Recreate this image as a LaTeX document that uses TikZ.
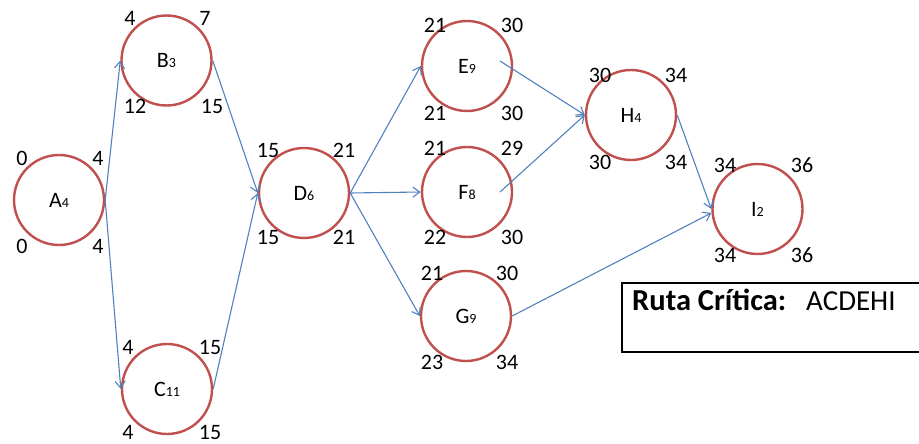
\documentclass[tikz,border=0pt]{standalone}
\usepackage{fontspec}
\setmainfont{Carlito}
\usetikzlibrary{arrows.meta}
\definecolor{nodered}{HTML}{C0504D}
\definecolor{edgeblue}{HTML}{4F81BD}
% activity name with its duration as a small index
\newcommand\actlabel[2]{#1{\fontsize{14}{14}\selectfont #2}}
\begin{document}
\begin{tikzpicture}[x=1pt,y=-1pt,
  act/.style={circle, draw=nodered, line width=2.4pt, minimum size=90pt,
              inner sep=0pt, font=\fontsize{22}{22}\selectfont},
  tval/.style={font=\fontsize{22}{22}\selectfont, inner sep=0pt, anchor=center},
  link/.style={draw=edgeblue, line width=1.1pt,
               -{Straight Barb[length=7pt,width=10pt]}},
  note/.style={anchor=base west, inner sep=0pt, font=\fontsize{29}{29}\selectfont}]
\useasboundingbox (0,0) rectangle (919,444);

% activities
\node[act] (A) at (59,200)    {\actlabel{A}{4}};
\node[act] (B) at (166.5,60.5) {\actlabel{B}{3}};
\node[act] (C) at (167,389)   {\actlabel{C}{11}};
\node[act] (D) at (304,193)   {\actlabel{D}{6}};
\node[act] (E) at (467,66)    {\actlabel{E}{9}};
\node[act] (F) at (467,192)   {\actlabel{F}{8}};
\node[act] (G) at (466,316)   {\actlabel{G}{9}};
\node[act] (H) at (631,115)   {\actlabel{H}{4}};
\node[act] (I) at (757.5,209) {\actlabel{I}{2}};

% times: early start / early finish (top), late start / late finish (bottom)
\node[tval] (A-es) at (22,158)  {0};  \node[tval] (A-ef) at (98,158)  {4};
\node[tval] (A-ls) at (22,246)  {0};  \node[tval] (A-lf) at (98,246)  {4};
\node[tval] (B-es) at (130,18)  {4};  \node[tval] (B-ef) at (205,18)  {7};
\node[tval] (B-ls) at (135,106) {12}; \node[tval] (B-lf) at (212,106) {15};
\node[tval] (C-es) at (128,347) {4};  \node[tval] (C-ef) at (210,347) {15};
\node[tval] (C-ls) at (128,432) {4};  \node[tval] (C-lf) at (210,432) {15};
\node[tval] (D-es) at (268,150) {15}; \node[tval] (D-ef) at (344,150) {21};
\node[tval] (D-ls) at (268,237) {15}; \node[tval] (D-lf) at (344,237) {21};
\node[tval] (E-es) at (435,25)  {21}; \node[tval] (E-ef) at (512,25)  {30};
\node[tval] (E-ls) at (435,113) {21}; \node[tval] (E-lf) at (512,113) {30};
\node[tval] (F-es) at (435,148) {21}; \node[tval] (F-ef) at (512,148) {29};
\node[tval] (F-ls) at (435,237) {22}; \node[tval] (F-lf) at (512,237) {30};
\node[tval] (G-es) at (432,273) {21}; \node[tval] (G-ef) at (507,273) {30};
\node[tval] (G-ls) at (432,362) {23}; \node[tval] (G-lf) at (507,362) {34};
\node[tval] (H-es) at (600,75)  {30}; \node[tval] (H-ef) at (676,75)  {34};
\node[tval] (H-ls) at (600,162) {30}; \node[tval] (H-lf) at (676,162) {34};
\node[tval] (I-es) at (725,165) {34}; \node[tval] (I-ef) at (802,165) {36};
\node[tval] (I-ls) at (725,255) {34}; \node[tval] (I-lf) at (802,255) {36};

% precedences
\coordinate (E-out) at ([shift={(33,-5)}]E.center);
\coordinate (F-out) at ([shift={(33,0)}]F.center);
\draw[link] (A.east) -- (B.west);
\draw[link] (A.east) -- (C.west);
\draw[link] (B.east) -- (D.west);
\draw[link] (C.east) -- (D.west);
\draw[link] (D.east) -- (E.west);
\draw[link] (D.east) -- (F.west);
\draw[link] (D.east) -- (G.west);
\draw[link] (E-out) -- (H.west);
\draw[link] (F-out) -- (H.west);
\draw[link] (H.east) -- (I.west);
\draw[link] (G.east) -- ([yshift=-4pt]I.west);

% critical path box
\draw[line width=2.5pt] (925,283) -| (622,352) -- (925,352);
\node[note, font=\bfseries\fontsize{30.5}{30.5}\selectfont] (rc-title) at (632,310) {Ruta Crítica:};
\node[note] (rc-path) at (806,310) {ACDEHI};
\end{tikzpicture}
\end{document}
